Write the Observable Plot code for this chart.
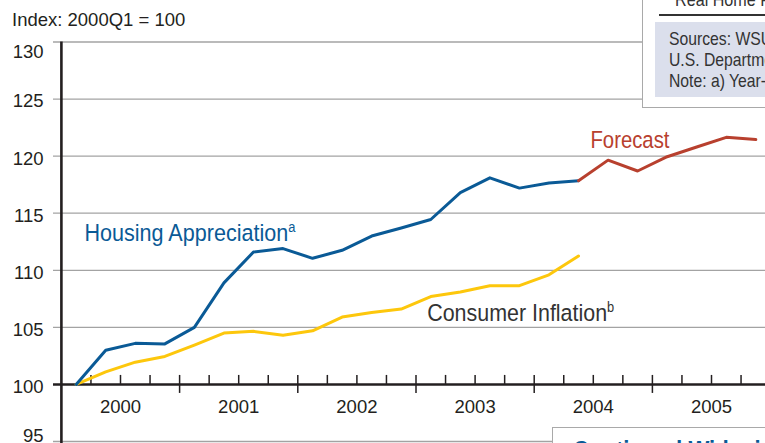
<!DOCTYPE html>
<html>
<head>
<meta charset="utf-8">
<script src="https://cdn.jsdelivr.net/npm/d3@7"></script>
<script src="https://cdn.jsdelivr.net/npm/@observablehq/plot@0.6"></script>
<style>
  html, body { margin: 0; padding: 0; background: #fff; overflow: hidden; }
  #wrap { position: relative; width: 765px; height: 443px; overflow: hidden; font-family: "Liberation Sans", Arial, sans-serif; color: #231f20; }
  #chart { position: absolute; left: 0; top: 0; }
  .abs { position: absolute; white-space: nowrap; }
  .narrow { transform: scaleX(0.85); transform-origin: 0 0; }
</style>
</head>
<body>
<div id="wrap">
  <div id="chart"></div>
  <div class="abs" style="left:12px; top:10.5px; font-size:18.5px; line-height:18.5px;">Index: 2000Q1 = 100</div>

  <div class="abs" style="left:642px; top:-3px; width:140px; height:111px; border:1.5px solid #a9a9a9; background:#fff; box-sizing:border-box;"></div>
  <div class="abs narrow" style="left:675px; top:-10px; font-size:19px; line-height:19px; color:#333;">Real Home Prices</div>
  <div class="abs" style="left:659px; top:14px; width:120px; height:2px; background:#333;"></div>
  <div class="abs" style="left:655px; top:22px; width:120px; height:75px; background:#dbdfec;"></div>
  <div class="abs narrow" style="left:669px; top:28px; font-size:18.5px; line-height:21px; color:#333;">Sources: WSU Center for Real Estate Research;<br>U.S. Department of Labor<br>Note: a) Year-over-year</div>

  <div class="abs" style="left:552px; top:427px; width:230px; height:30px; border:1.5px solid #a9a9a9; background:#fff; box-sizing:border-box;"></div>
  <div class="abs narrow" style="left:573px; top:437px; font-size:26px; line-height:26px; font-weight:bold; color:#0a5a96;">Continued Widening</div>
</div>
<script>
// ---- data ----
const housingQuarters = ["2000Q1","2000Q2","2000Q3","2000Q4","2001Q1","2001Q2","2001Q3","2001Q4","2002Q1","2002Q2","2002Q3","2002Q4","2003Q1","2003Q2","2003Q3","2003Q4","2004Q1","2004Q2"];
const housingValues = [100, 103.0, 103.6, 103.55, 105.0, 108.9, 111.6, 111.9, 111.05, 111.75, 113.0, 113.7, 114.45, 116.8, 118.1, 117.2, 117.65, 117.85];

const forecastQuarters = ["2004Q2","2004Q3","2004Q4","2005Q1","2005Q2","2005Q3","2005Q4"];
const forecastValues = [117.85, 119.65, 118.7, 119.95, 120.8, 121.65, 121.45];

const inflationQuarters = ["2000Q1","2000Q2","2000Q3","2000Q4","2001Q1","2001Q2","2001Q3","2001Q4","2002Q1","2002Q2","2002Q3","2002Q4","2003Q1","2003Q2","2003Q3","2003Q4","2004Q1","2004Q2"];
const inflationValues = [100, 101.1, 101.95, 102.45, 103.45, 104.5, 104.65, 104.3, 104.7, 105.9, 106.3, 106.6, 107.7, 108.1, 108.65, 108.65, 109.6, 111.25];

const yearLabels = ["2000","2001","2002","2003","2004","2005"];
const yTicks = [95, 100, 105, 110, 115, 120, 125, 130];

// ---- helpers ----
const qx = q => +q.slice(0, 4) + (+q.slice(5) - 0.5) / 4;
const toRows = (qs, vs) => qs.map((q, i) => ({x: qx(q), y: vs[i]}));
const housing = toRows(housingQuarters, housingValues);
const forecast = toRows(forecastQuarters, forecastValues);
const inflation = toRows(inflationQuarters, inflationValues);

const firstYear = +yearLabels[0];
const lastYear = +yearLabels[yearLabels.length - 1] + 1;
const yearBounds = d3.range(firstYear + 1, lastYear + 1);
const quarterBounds = d3.range(firstYear * 4 + 1, lastYear * 4).filter(q => q % 4 !== 0).map(q => q / 4);

const ink = "#231f20";
const blue = "#0a5a96", yellow = "#fdc70c", red = "#b8402e";

const plot = Plot.plot({
  width: 765,
  height: 443,
  marginLeft: 53,
  marginRight: 0,
  marginTop: 41.5,
  marginBottom: 2,
  style: {fontFamily: "'Liberation Sans', Arial, sans-serif", background: "transparent", overflow: "visible"},
  x: {type: "linear", domain: [firstYear, lastYear], range: [60.9, 770.1], axis: null},
  y: {domain: [95, 130], range: [441, 41.5], axis: null},
  marks: [
    Plot.ruleY(yTicks.filter(d => d !== 100), {y: d => d, stroke: "#a3a3a3", strokeWidth: 1.3}),
    Plot.text(yTicks.filter(d => d > 95 && d < 130), {y: d => d, text: d => String(d), frameAnchor: "left", textAnchor: "end", dx: -10, dy: 2.5, fontSize: 18.5, fill: ink}),
    Plot.text(yTicks.filter(d => d === 130), {y: d => d, text: d => String(d), frameAnchor: "left", textAnchor: "end", dx: -10, dy: 9.6, fontSize: 18.5, fill: ink}),
    Plot.text(yTicks.filter(d => d === 95), {y: d => d, text: d => String(d), frameAnchor: "left", textAnchor: "end", dx: -10, dy: -5.3, fontSize: 18.5, fill: ink}),
    Plot.ruleY([100], {y: d => d, stroke: ink, strokeWidth: 2.6}),
    Plot.ruleX([firstYear], {x: d => d, stroke: ink, strokeWidth: 2.6, insetBottom: -4}),
    Plot.ruleX(quarterBounds, {x: d => d, y1: 100, y2: 100, insetTop: 0, insetBottom: 9, stroke: ink, strokeWidth: 1.5}),
    Plot.ruleX(yearBounds, {x: d => d, y1: 100, y2: 100, insetTop: 9, insetBottom: 9, stroke: ink, strokeWidth: 1.5}),
    Plot.text(yearLabels, {x: d => +d + 0.5, y: () => 100, text: d => d, dy: 23, fontSize: 18.5, fill: ink}),
    Plot.line(inflation, {x: "x", y: "y", stroke: yellow, strokeWidth: 3}),
    Plot.line(housing, {x: "x", y: "y", stroke: blue, strokeWidth: 3}),
    Plot.line(forecast, {x: "x", y: "y", stroke: red, strokeWidth: 3}),
    Plot.text(["Housing Appreciation"], {x: () => 2000.195, y: () => 113.23, text: d => d, textAnchor: "start", fontSize: 24.5, fill: blue}),
    Plot.text(["Consumer Inflation"], {x: () => 2003.095, y: () => 106.23, text: d => d, textAnchor: "start", fontSize: 24.5, fill: "#333"}),
    Plot.text(["Forecast"], {x: () => 2004.476, y: () => 121.37, text: d => d, textAnchor: "start", fontSize: 24.5, fill: red})
  ]
});

// superscripts and condensed widths for the series labels
const labelStyle = {
  "Housing Appreciation": {sup: "a", width: 211},
  "Consumer Inflation": {sup: "b", width: 187},
  "Forecast": {sup: null, width: 79}
};
d3.select(plot).selectAll("text").each(function () {
  const t = this.textContent;
  const s = labelStyle[t];
  if (!s) return;
  if (s.sup) d3.select(this).append("tspan").attr("dy", "-0.6em").attr("font-size", "0.6em").text(s.sup);
  d3.select(this).attr("textLength", s.width).attr("lengthAdjust", "spacingAndGlyphs");
});

document.getElementById("chart").appendChild(plot);
</script>
</body>
</html>
